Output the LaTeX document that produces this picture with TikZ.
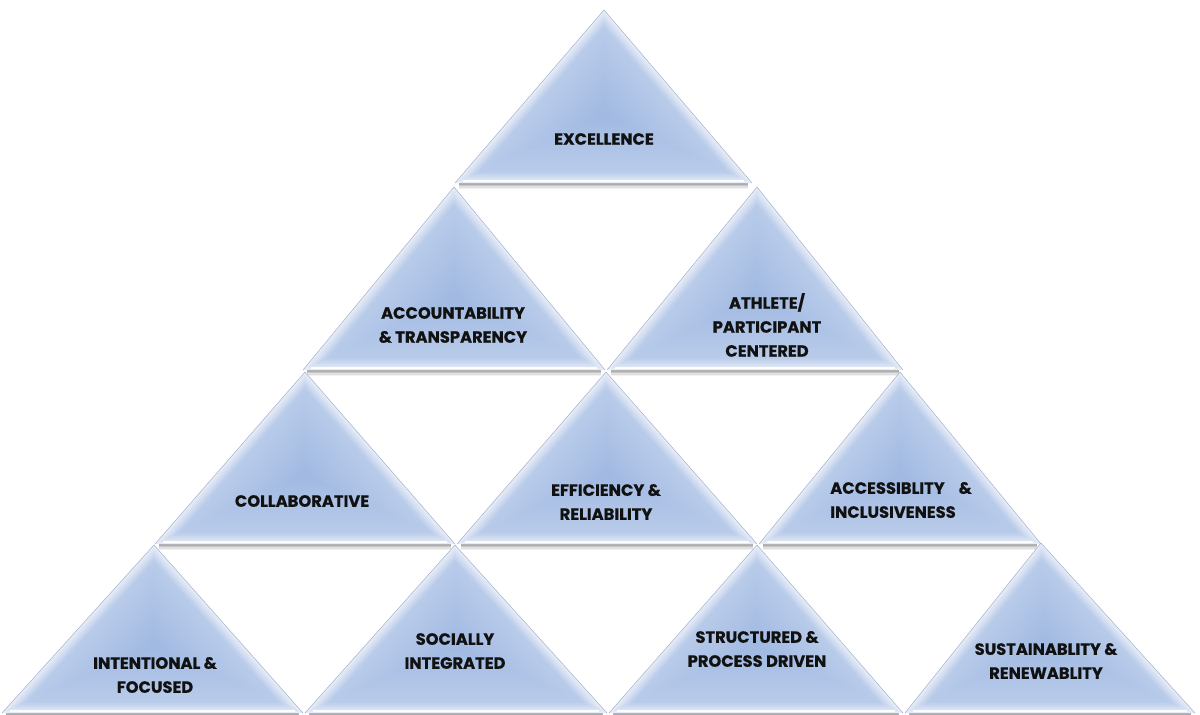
\documentclass[tikz,border=0pt]{standalone}
\usepackage{fontspec}
\setmainfont{Poppins}[BoldFeatures={FakeBold=0.6}]
\usetikzlibrary{calc}
\definecolor{triblue}{HTML}{A0B9E2}
\definecolor{tririm}{HTML}{F2F5FB}
\definecolor{triedge}{HTML}{A3B0CA}
\definecolor{txt}{HTML}{111111}
\tikzset{
  lbl/.style={font=\bfseries\fontsize{16.3}{24}\selectfont, align=center, text=txt, inner sep=0pt},
  lblleft/.style={lbl, align=left},
  rimline/.style={triedge, line width=0.5pt},
}
% #1 apex x, #2 apex y, #3 base left x, #4 base right x, #5 base y
\newcommand\pyrtri[5]{%
  \coordinate (A) at (#1,#2);
  \coordinate (B) at (#3,#5);
  \coordinate (C) at (#4,#5);
  \pgfmathsetmacro\incx{((#3+#4)/2+#1)/2}
  \pgfmathsetmacro\incy{#5-0.396*(#5-#2)}
  \coordinate (I) at (\incx,\incy);
  \foreach \s/\o in {1/0.32,2.5/0.22,4/0.12,5.5/0.05}{
    \draw[black, opacity=\o, line width=1.5pt] ($(B)+(4,\s)$) -- ($(C)+(-4,\s)$);
  }
  \foreach \k in {0,...,33}{
    \pgfmathsetmacro\f{1-\k/34}
    \pgfmathsetmacro\p{\f>0.85 ? 15+(1-\f)/0.15*55 : 70+(0.85-\f)/0.85*30}
    \fill[triblue!\p!tririm] ($(I)!\f!(A)$) -- ($(I)!\f!(B)$) -- ($(I)!\f!(C)$) -- cycle;
  }
  \draw[white, opacity=0.9, line width=1.4pt] ($(B)+(8,-2)$) -- ($(C)+(-8,-2)$);
  \draw[rimline] (B) -- (A) -- (C);
}
\begin{document}
\begin{tikzpicture}[x=1pt,y=-1pt]
\useasboundingbox (0,0) rectangle (1200,715);
% row 1
\pyrtri{604}{10}{455}{752}{183}
% row 2
\pyrtri{454}{187}{303}{605}{370}
\pyrtri{757}{187}{607}{903}{370}
% row 3
\pyrtri{305}{372}{155}{455}{544}
\pyrtri{606}{372}{457}{757}{544}
\pyrtri{900}{372}{759}{1041}{544}
% row 4
\pyrtri{154}{545}{2}{303}{713}
\pyrtri{455}{545}{305}{607}{713}
\pyrtri{757}{545}{609}{903}{713}
\pyrtri{1041}{543}{905}{1195}{713}
% labels
\node[lbl] (excellence) at (604,139) {EXCELLENCE};
\node[lbl] (accountability) at (453,325) {ACCOUNTABILITY\\\& TRANSPARENCY};
\node[lbl] (athlete) at (767,325) {ATHLETE/\\PARTICIPANT\\CENTERED};
\node[lbl] (collaborative) at (302,501) {COLLABORATIVE};
\node[lbl] (efficiency) at (606,502) {EFFICIENCY \&\\RELIABILITY};
\node[lblleft] (accessibility) at (901,500) {ACCESSIBLITY\hspace{14pt}\&\\INCLUSIVENESS};
\node[lbl] (intentional) at (155,675) {INTENTIONAL \&\\FOCUSED};
\node[lbl] (socially) at (455,651) {SOCIALLY\\INTEGRATED};
\node[lbl] (structured) at (757,649) {STRUCTURED \&\\PROCESS DRIVEN};
\node[lbl] (sustainability) at (1046,661) {SUSTAINABLITY \&\\RENEWABLITY};
\end{tikzpicture}
\end{document}
